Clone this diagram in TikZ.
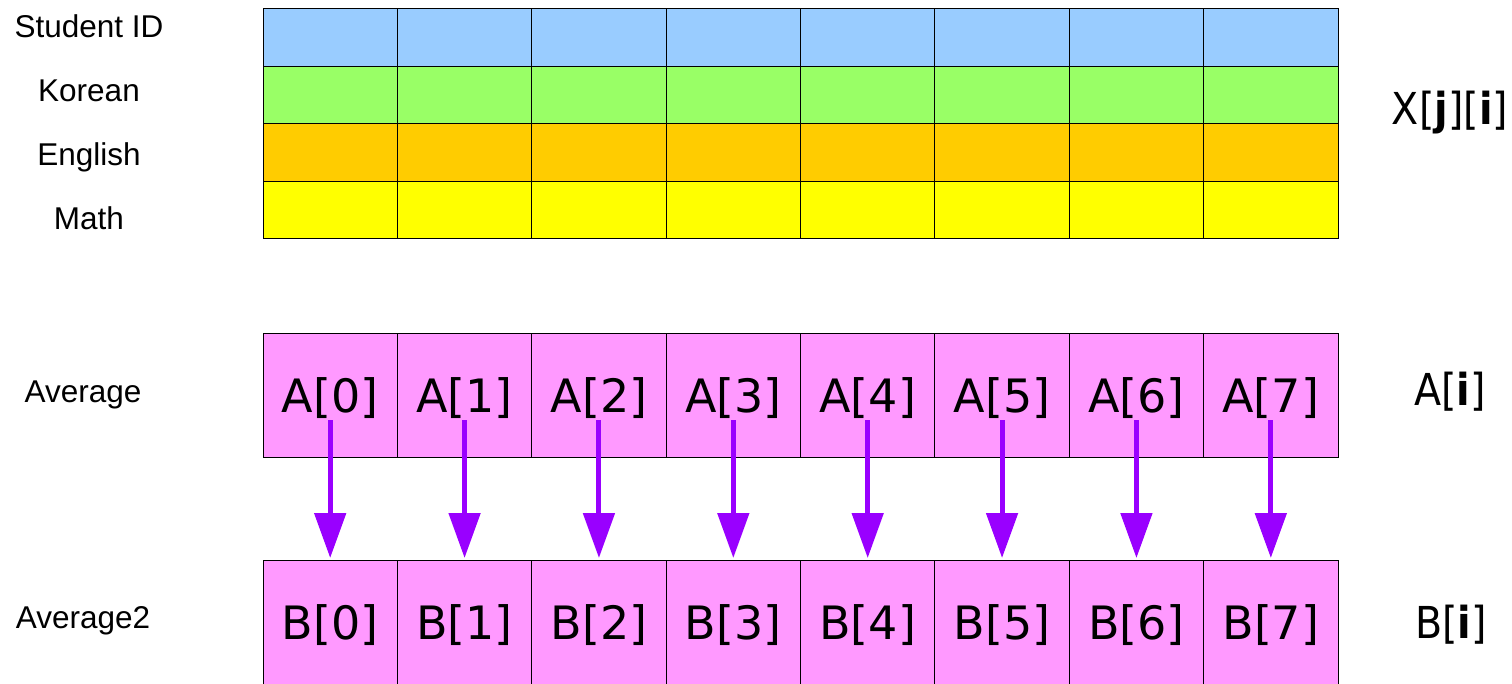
\documentclass[tikz,border=0pt]{standalone}
\usepackage{fontspec}
\setmainfont{Liberation Sans}
\newfontfamily\dv{DejaVu Sans}
\newfontfamily\dvc[FakeStretch=0.9]{DejaVu Sans}
\usetikzlibrary{arrows.meta}
\definecolor{bluec}{HTML}{99CCFF}
\definecolor{greenc}{HTML}{99FF66}
\definecolor{orangec}{HTML}{FFCC00}
\definecolor{yellowc}{HTML}{FFFF00}
\definecolor{pinkc}{HTML}{FF99FF}
\definecolor{arrowc}{HTML}{9900FF}
\begin{document}
\begin{tikzpicture}[x=1pt,y=-1pt,
  cellbox/.style={draw=black, line width=1pt, minimum width=134.375pt, inner sep=0pt, outer sep=0pt},
  toprow/.style={cellbox, minimum height=57.5pt},
  pinkcell/.style={cellbox, fill=pinkc, minimum height=124pt, font=\dv\fontsize{46}{50}\selectfont, text height=34pt, text depth=0pt},
  lbl/.style={font=\fontsize{31.5}{36}\selectfont, anchor=base, inner sep=0pt},
  rlbl/.style={font=\dvc\fontsize{44}{48}\selectfont, anchor=base, inner sep=0pt},
  arr/.style={draw=arrowc, line width=5pt, -{Triangle[width=31pt,length=45pt]}}
]
\useasboundingbox (0,0) rectangle (1512,683);
% top grid
\foreach \r/\c in {0/bluec,1/greenc,2/orangec,3/yellowc}{
  \foreach \i in {0,...,7}{
    \node[toprow, fill=\c] (x\r\i) at ({263+134.375*(\i+0.5)}, {8.5+57.5*(\r+0.5)}) {};
  }
}
% A and B rows
\foreach \i in {0,...,7}{
  \node[pinkcell] (a\i) at ({263+134.375*(\i+0.5)}, 395) {A[\i]};
  \node[pinkcell] (b\i) at ({263+134.375*(\i+0.5)}, 622) {B[\i]};
}
\foreach \i in {0,...,7}{
  \draw[arr] ([yshift=-25pt]a\i.center) -- ([yshift=2pt]b\i.north);
}
% left labels
\node[lbl] (l1) at (89,37) {Student ID};
\node[lbl] (l2) at (89,101) {Korean};
\node[lbl] (l3) at (89,165) {English};
\node[lbl] (l4) at (89,229) {Math};
\node[lbl] (l5) at (83,402) {Average};
\node[lbl] (l6) at (83,628) {Average2};
% right labels
\node[rlbl] (rx) at (1450,124) {X[\textbf{j}][\textbf{i}]};
\node[rlbl] (ra) at (1450,405) {A[\textbf{i}]};
\node[rlbl] (rb) at (1451,638) {B[\textbf{i}]};
\end{tikzpicture}
\end{document}
